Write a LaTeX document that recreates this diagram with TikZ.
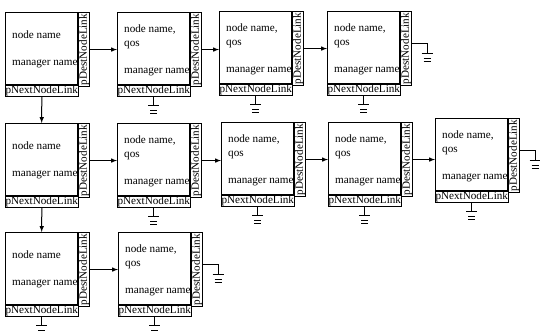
\documentclass[tikz,border=0pt]{standalone}
\usepackage{fontspec}
\setmainfont{Liberation Serif}
\usetikzlibrary{arrows,positioning,calc}

\tikzset{
  mainbox/.style={draw, line width=1.1bp, minimum width=72bp, minimum height=72bp, inner sep=0pt},
  destbox/.style={draw, fill=white, line width=1.1bp, minimum width=11bp, minimum height=74bp, inner sep=0pt, font=\fontsize{11.2}{12}\selectfont},
  nextbox/.style={draw, fill=white, line width=1.1bp, minimum width=72bp, minimum height=11bp, inner sep=0pt, font=\fontsize{11.2}{12}\selectfont},
  txt/.style={anchor=base west, inner sep=0pt, font=\fontsize{11.2}{12}\selectfont},
  link/.style={-latex, line width=1bp},
  wire/.style={line width=0.9bp}
}

% column and bottom row of a list node
\newcommand{\nodeframe}[1]{%
  \node[destbox, anchor=north west] (#1d) at (#1m.north east) {\rotatebox{90}{pDestNodeLink}};
  \node[nextbox, anchor=north west] (#1n) at (#1m.south west) {pNextNodeLink};
}
% head node of a list
\newcommand{\headnode}[3]{%
  \node[mainbox, anchor=north west] (#1m) at (#2,#3) {};
  \node[txt] (#1a) at ($(#1m.north west)+(7,26)$) {node name};
  \node[txt] (#1b) at ($(#1m.north west)+(7,53)$) {manager name};
  \nodeframe{#1}
}
% member node with qos
\newcommand{\qosnode}[3]{%
  \node[mainbox, anchor=north west] (#1m) at (#2,#3) {};
  \node[txt] (#1a) at ($(#1m.north west)+(7,20)$) {node name,};
  \node[txt] (#1q) at ($(#1m.north west)+(7,34)$) {qos};
  \node[txt] (#1b) at ($(#1m.north west)+(7,61)$) {manager name};
  \nodeframe{#1}
}
% ground symbol hanging from a coordinate
\newcommand{\earth}[1]{%
  \draw[wire] ($(#1)+(-5.5,0)$) -- ++(11,0);
  \draw[wire] ($(#1)+(-3.5,5)$) -- ++(7,0);
  \draw[wire] ($(#1)+(-3.5,8)$) -- ++(7,0);
}

\begin{document}
\begin{tikzpicture}[x=1bp, y=-1bp]
\useasboundingbox (0,0) rectangle (540,330);

% first list
\headnode{n11}{5}{12}
\qosnode{n12}{117}{12}
\qosnode{n13}{219}{11}
\qosnode{n14}{327}{11}

% second list
\headnode{n21}{5}{123}
\qosnode{n22}{117}{123}
\qosnode{n23}{221}{122}
\qosnode{n24}{328}{122}
\qosnode{n25}{435}{118}

% third list
\headnode{n31}{5}{232}
\qosnode{n32}{118}{232}

% destination links
\draw[link] (n11d.east) -- (n11d.east -| n12m.west);
\draw[link] (n12d.east) -- (n12d.east -| n13m.west);
\draw[link] (n13d.east) -- (n13d.east -| n14m.west);
\draw[link] (n21d.east) -- (n21d.east -| n22m.west);
\draw[link] (n22d.east) -- (n22d.east -| n23m.west);
\draw[link] (n23d.east) -- (n23d.east -| n24m.west);
\draw[link] (n24d.east) -- (n24d.east -| n25m.west);
\draw[link] (n31d.east) -- (n31d.east -| n32m.west);

% next links between heads
\draw[link] (n11n) -- (n21m);
\draw[link] (n21n) -- (n31m);

% grounded next links
\foreach \k in {n12,n13,n14,n22,n23,n24,n25,n31,n32}{
  \coordinate (\k g) at ($(\k n.south)+(0,8)$);
  \draw[wire] (\k n) -- (\k g);
  \earth{\k g}
}

% grounded destination links at the ends of the lists
\foreach \k in {n14,n25,n32}{
  \coordinate (\k e) at ($(\k d.north east)+(15,32)$);
  \coordinate (\k f) at ($(\k e)+(0,10)$);
  \draw[wire] (\k d.east |- \k e) -- (\k e) -- (\k f);
  \earth{\k f}
}

\end{tikzpicture}
\end{document}
